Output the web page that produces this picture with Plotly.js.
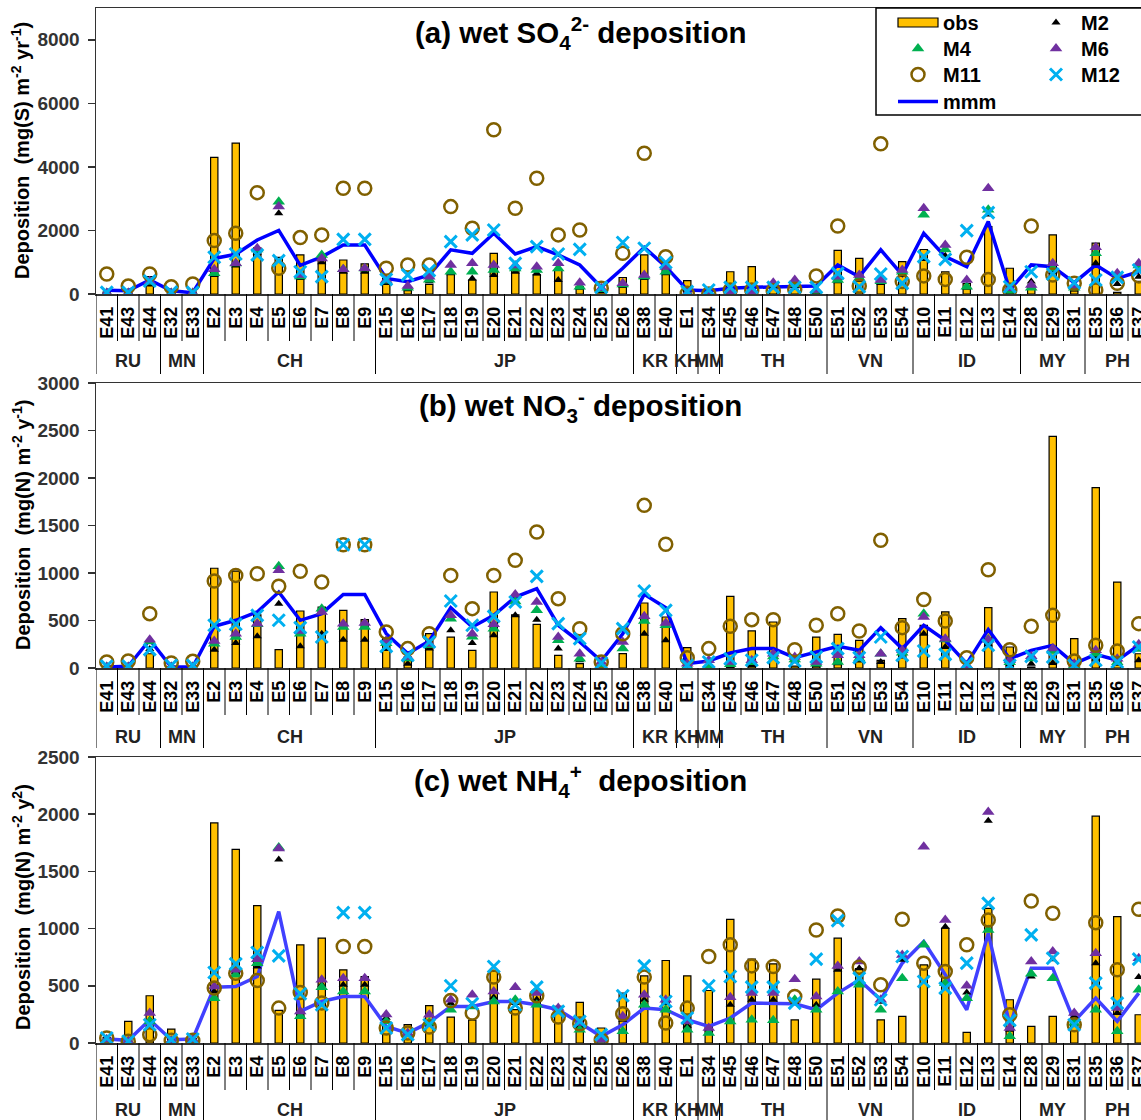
<!DOCTYPE html>
<html><head><meta charset="utf-8">
<script src="https://cdn.plot.ly/plotly-3.0.1.min.js"></script>
<style>html,body{margin:0;padding:0;overflow:hidden;background:#fff}</style>
</head><body><div id="chart"></div>
<script>
// ---------------- DATA ----------------
const stations = ['E41','E43','E44','E32','E33','E2','E3','E4','E5','E6','E7','E8','E9',
  'E15','E16','E17','E18','E19','E20','E21','E22','E23','E24','E25','E26','E38','E40','E1','E34',
  'E45','E46','E47','E48','E50','E51','E52','E53','E54','E10','E11','E12','E13','E14',
  'E28','E29','E31','E35','E36','E37'];
const countries = ['RU','MN','CH','JP','KR','KH','MM','TH','VN','ID','MY','PH'];
const countrySizes = [3,2,8,12,2,1,1,5,4,5,3,3];

// (a) wet SO4 deposition
const so4Obs = [60,100,550,60,60,4300,4750,1450,1150,1230,1150,1070,950,
  500,150,300,650,440,1280,740,600,760,230,50,520,1230,900,420,50,
  700,860,300,150,100,1370,1120,400,1020,1400,700,330,2120,810,280,1860,100,1600,50,400];
const so4M2 = [20,20,300,20,20,600,900,1300,2540,500,1000,700,700,
  350,150,400,650,490,600,700,650,440,200,100,250,500,650,10,10,
  40,40,250,250,80,400,450,350,600,1100,1200,200,2500,80,390,700,150,965,315,545];
const so4M4 = [30,30,380,30,30,650,960,1400,2900,550,1230,780,800,
  420,200,450,700,700,755,800,755,800,230,150,300,550,700,20,10,
  50,50,300,300,100,440,500,400,700,2490,1400,230,2650,100,200,800,200,1280,500,900];
const so4M6 = [30,30,400,30,30,780,965,1440,2750,600,1120,780,810,
  440,250,545,915,965,915,900,860,965,355,180,335,600,850,30,20,
  60,60,355,440,126,545,600,440,755,2700,1540,440,3330,180,280,965,250,1470,650,965];
const so4M11 = [630,250,630,230,315,1680,1910,3190,810,1775,1860,3330,3330,
  810,915,915,2750,2070,5170,2700,3640,1860,2015,180,1280,4430,1175,20,0,
  126,126,105,150,570,2140,250,4725,390,570,460,1155,460,126,2140,600,335,126,335,570];
const so4M12 = [50,50,410,60,50,1155,1260,1230,1050,700,545,1720,1720,
  460,600,735,1650,1860,2015,965,1490,1260,1405,210,1620,1440,990,75,126,
  210,210,210,210,210,650,230,630,335,1175,1090,1995,2560,230,700,630,355,440,525,755];
const so4Mmm = [120,100,440,100,40,1120,1250,1700,2000,900,1170,1540,1540,
  490,390,600,1390,1280,1910,1260,1490,1230,915,210,810,1470,860,126,105,
  180,210,230,250,250,915,545,1390,600,1910,1175,860,2280,126,915,860,355,915,490,700];

// (b) wet NO3 deposition
const no3Obs = [10,20,150,10,10,1050,1020,560,193,600,640,607,510,
  320,116,361,326,186,800,560,460,133,46,20,151,684,537,214,10,
  754,390,484,20,326,354,291,81,519,450,590,10,635,221,10,2439,309,1898,905,150];
const no3M2 = [5,5,200,5,5,193,263,333,677,228,361,298,298,
  200,46,204,397,263,344,554,509,204,81,28,200,361,291,10,10,
  20,30,116,70,30,50,80,63,120,361,221,10,250,40,46,53,20,100,46,81];
const no3M4 = [10,10,280,10,10,256,326,460,1070,361,625,432,432,
  260,100,240,519,330,414,700,607,291,98,28,204,495,450,20,20,
  40,60,120,90,46,63,100,150,160,572,300,20,300,60,100,180,30,150,60,200];
const no3M6 = [10,10,298,10,10,284,361,467,1028,390,590,467,474,
  290,116,256,554,361,460,775,695,326,151,63,274,544,474,46,81,
  63,81,151,116,63,133,133,151,186,537,309,28,298,81,123,204,46,186,98,249];
const no3M11 = [63,74,572,53,70,916,975,993,860,1018,905,1298,1298,
  379,204,361,975,625,975,1133,1432,730,414,63,361,1712,1302,109,204,
  439,509,509,193,450,572,390,1344,425,720,495,109,1035,193,439,554,74,239,179,467];
const no3M12 = [20,20,193,28,28,450,460,554,502,425,326,1298,1298,
  228,133,274,705,450,544,695,965,467,309,53,414,811,607,28,63,
  98,81,109,74,116,204,109,326,133,179,144,46,239,28,123,116,28,81,63,221];
const no3Mmm = [10,18,298,10,10,440,502,590,800,502,572,775,775,
  361,151,284,635,432,554,747,835,450,274,74,361,775,635,46,74,
  158,204,204,109,168,228,186,425,204,450,291,46,404,98,186,239,46,144,81,239];

// (c) wet NH4 deposition
const nh4Obs = [50,189,413,122,40,1924,1692,1200,285,858,916,640,581,
  150,160,326,227,200,625,291,436,320,355,131,436,587,721,587,459,
  1081,733,692,203,558,916,650,203,233,683,1003,93,1177,378,145,233,160,1983,1105,247];
const nh4M2 = [30,15,200,20,30,450,620,669,1605,250,510,509,509,
  220,80,170,350,330,400,350,380,290,150,30,203,378,350,150,120,
  334,378,378,360,334,640,654,360,727,860,1017,442,1942,116,581,733,233,698,262,576];
const nh4M4 = [30,15,189,20,30,392,596,698,1709,233,488,450,450,
  190,80,180,291,320,363,378,334,276,116,29,102,334,291,116,87,
  189,203,198,378,291,450,509,291,567,858,523,392,988,58,605,567,174,291,102,465];
const nh4M6 = [30,15,262,20,30,494,640,733,1700,276,552,567,567,
  250,87,247,378,421,450,488,436,305,174,29,233,421,378,189,131,
  401,436,436,558,407,674,712,378,770,1715,1076,500,2020,131,712,800,262,785,305,741];
const nh4M11 = [44,15,73,23,23,480,610,547,305,442,349,843,843,
  131,87,140,372,262,576,305,413,227,169,29,256,576,174,305,756,
  858,674,669,407,988,1110,663,509,1081,698,625,858,1076,247,1241,1134,160,1052,640,1169];
const nh4M12 = [44,15,160,29,35,616,692,791,762,430,334,1140,1140,
  131,73,160,500,343,669,334,488,276,189,73,413,674,363,218,500,
  581,488,488,349,733,1070,567,378,756,538,480,698,1221,198,945,741,160,523,349,733];
const nh4Mmm = [35,23,203,29,35,488,494,581,1148,276,363,407,407,
  145,87,180,320,320,363,363,334,291,174,58,160,305,291,203,145,
  218,349,349,343,291,436,552,378,698,887,596,291,959,160,654,654,189,392,189,436];

// ---------------- LAYOUT HELPERS ----------------
const W = 1240, H = 1120;
const FONT = 'Arial, "Liberation Sans", sans-serif';
const py = p => 1 - p / H;
const px = p => p / W;

const panels = [
  {ax:'', top:8, bottom:294, ymax:9000, dtick:2000,
   title:'(a) wet SO<sub>4</sub><sup>2-</sup> deposition', titleY:33,
   ytitle:'Deposition\u00a0 (mg(S) m<sup>-2</sup> yr<sup>-1</sup>)', ytitleY:151, groupY:361,
   obs:so4Obs, m2:so4M2, m4:so4M4, m6:so4M6, m11:so4M11, m12:so4M12, mmm:so4Mmm, lineColor:'#0000FF'},
  {ax:'2', top:383, bottom:668, ymax:3000, dtick:500,
   title:'(b) wet NO<sub>3</sub><sup>-</sup> deposition', titleY:406,
   ytitle:'Deposition\u00a0 (mg(N) m<sup>-2</sup> y<sup>-1</sup>)', ytitleY:525, groupY:737,
   obs:no3Obs, m2:no3M2, m4:no3M4, m6:no3M6, m11:no3M11, m12:no3M12, mmm:no3Mmm, lineColor:'#0000FF'},
  {ax:'3', top:757, bottom:1043, ymax:2500, dtick:500,
   title:'(c) wet NH<sub>4</sub><sup>+</sup>\u00a0 deposition', titleY:781,
   ytitle:'Deposition\u00a0 (mg(N) m<sup>-2</sup> y<sup>2</sup>)', ytitleY:907, groupY:1110,
   obs:nh4Obs, m2:nh4M2, m4:nh4M4, m6:nh4M6, m11:nh4M11, m12:nh4M12, mmm:nh4Mmm, lineColor:'#4040FF'}
];

const traces = [];
const layout = {
  width: W, height: H, margin:{l:0,r:0,t:0,b:0},
  paper_bgcolor:'#fff', plot_bgcolor:'#fff',
  font:{family:FONT, color:'#000'},
  showlegend:true,
  shapes:[], annotations:[]
};

// group boundaries and centers
const groupBounds = [-0.5];
const groupCenters = [];
let acc = -0.5;
countrySizes.forEach(n => { groupCenters.push(acc + n/2); acc += n; groupBounds.push(acc); });

panels.forEach((p, k) => {
  const xa = 'x' + p.ax, ya = 'y' + p.ax;
  const first = k === 0;
  traces.push({type:'bar', x:stations, y:p.obs, xaxis:xa, yaxis:ya, name:'obs',
    marker:{color:'#FFC000', line:{color:'#000', width:1.2}}, width:0.34,
    showlegend:first, legend:'legend'});
  traces.push({type:'scatter', mode:'lines', x:stations, y:p.mmm, xaxis:xa, yaxis:ya, name:'mmm',
    line:{color:p.lineColor, width:3.5}, showlegend:first, legend:'legend4'});
  traces.push({type:'scatter', mode:'markers', x:stations, y:p.m2, xaxis:xa, yaxis:ya, name:'M2',
    marker:{symbol:'triangle-up', size:8, color:'#000'}, showlegend:first, legend:'legend'});
  traces.push({type:'scatter', mode:'markers', x:stations, y:p.m4, xaxis:xa, yaxis:ya, name:'M4',
    marker:{symbol:'triangle-up', size:11, color:'#00B050'}, showlegend:first, legend:'legend2'});
  traces.push({type:'scatter', mode:'markers', x:stations, y:p.m6, xaxis:xa, yaxis:ya, name:'M6',
    marker:{symbol:'triangle-up', size:11, color:'#7030A0'}, showlegend:first, legend:'legend2'});
  traces.push({type:'scatter', mode:'markers', x:stations, y:p.m11, xaxis:xa, yaxis:ya, name:'M11',
    marker:{symbol:'circle-open', size:13, color:'#806000', line:{color:'#806000', width:2.5}},
    showlegend:first, legend:'legend3'});
  traces.push({type:'scatter', mode:'markers', x:stations, y:p.m12, xaxis:xa, yaxis:ya, name:'M12',
    marker:{symbol:'x-thin', size:12, color:'#00B0F0', line:{color:'#00B0F0', width:3}},
    showlegend:first, legend:'legend3'});

  layout['xaxis' + p.ax] = {
    domain:[px(96), px(1149.5)], anchor:ya, type:'category', categoryorder:'array', categoryarray:stations,
    range:[-0.5, stations.length - 0.5], tickmode:'linear', tick0:0, dtick:1,
    showline:true, mirror:true, linecolor:'#333', linewidth:1.5,
    ticks:'', tickangle:-90, ticklabelstandoff:4, showgrid:false, zeroline:false, fixedrange:true,
    tickfont:{family:FONT, size:18, weight:'bold', color:'#000'}
  };
  layout['yaxis' + p.ax] = {
    domain:[py(p.bottom), py(p.top)], anchor:xa, range:[0, p.ymax], dtick:p.dtick, tick0:0,
    ticks:'outside', ticklen:7, tickwidth:1.5, tickcolor:'#333', showline:true, mirror:true,
    linecolor:'#333', linewidth:1.5, showgrid:false, zeroline:false, fixedrange:true,
    ticklabelstandoff:4,
    tickfont:{family:FONT, size:19, weight:'bold', color:'#333'}
  };

  // separators below the axis
  for (let j = -1; j < stations.length - 1; j++) {
    const b = j + 0.5;
    const isGroup = groupBounds.some(g => Math.abs(g - b) < 1e-9);
    const len = isGroup ? 80 : 47;
    layout.shapes.push({type:'line', xref:xa, yref:'paper', x0:b, x1:b,
      y0:py(p.bottom), y1:py(p.bottom + len), line:{color:'#000', width:1}});
  }
  // country labels
  countries.forEach((c, i) => {
    layout.annotations.push({xref:xa, yref:'paper', x:groupCenters[i], y:py(p.groupY), text:c,
      showarrow:false, xanchor:'center', yanchor:'middle',
      font:{family:FONT, size:18, weight:'bold', color:'#222'}});
  });
  // panel title
  layout.annotations.push({xref:'paper', yref:'paper', x:px(580), y:py(p.titleY), text:p.title,
    showarrow:false, xanchor:'center', yanchor:'middle',
    font:{family:FONT, size:29.5, weight:'bold', color:'#000'}});
  // y title
  layout.annotations.push({xref:'paper', yref:'paper', x:px(21), y:py(p.ytitleY), text:p.ytitle,
    textangle:-90, showarrow:false, xanchor:'center', yanchor:'middle',
    font:{family:FONT, size:20, weight:'bold', color:'#000'}});
});

// legend box
layout.shapes.push({type:'rect', xref:'paper', yref:'paper', x0:px(876), x1:px(1200), y0:py(115), y1:py(8),
  line:{color:'#000', width:1.5}, fillcolor:'#fff', layer:'above'});

const legendBase = {orientation:'h', xanchor:'left', yanchor:'top', x:px(893), itemwidth:40,
  entrywidth:83, entrywidthmode:'pixels', bgcolor:'rgba(0,0,0,0)', borderwidth:0, traceorder:'normal',
  font:{family:FONT, size:20, weight:'bold', color:'#000'}};
layout.legend  = Object.assign({}, legendBase, {y:py(3)});
layout.legend2 = Object.assign({}, legendBase, {y:py(29)});
layout.legend3 = Object.assign({}, legendBase, {y:py(55)});
layout.legend4 = Object.assign({}, legendBase, {y:py(82)});

const gdEl = document.getElementById('chart');
const BAR_SWATCH = 'M20,4.5H-20V-4.5H20Z';
function widenSwatches() {
  gdEl.querySelectorAll('.legend g.legendpoints path.legendundefined, .legend g.legendpoints path.legendbar').forEach(el => {
    if (el.getAttribute('d') !== BAR_SWATCH) el.setAttribute('d', BAR_SWATCH);
  });
}
new MutationObserver(widenSwatches).observe(gdEl, {subtree:true, childList:true, attributes:true, attributeFilter:['d']});
Plotly.newPlot(gdEl, traces, layout, {staticPlot:true, displayModeBar:false}).then(widenSwatches);
</script>
</body></html>
